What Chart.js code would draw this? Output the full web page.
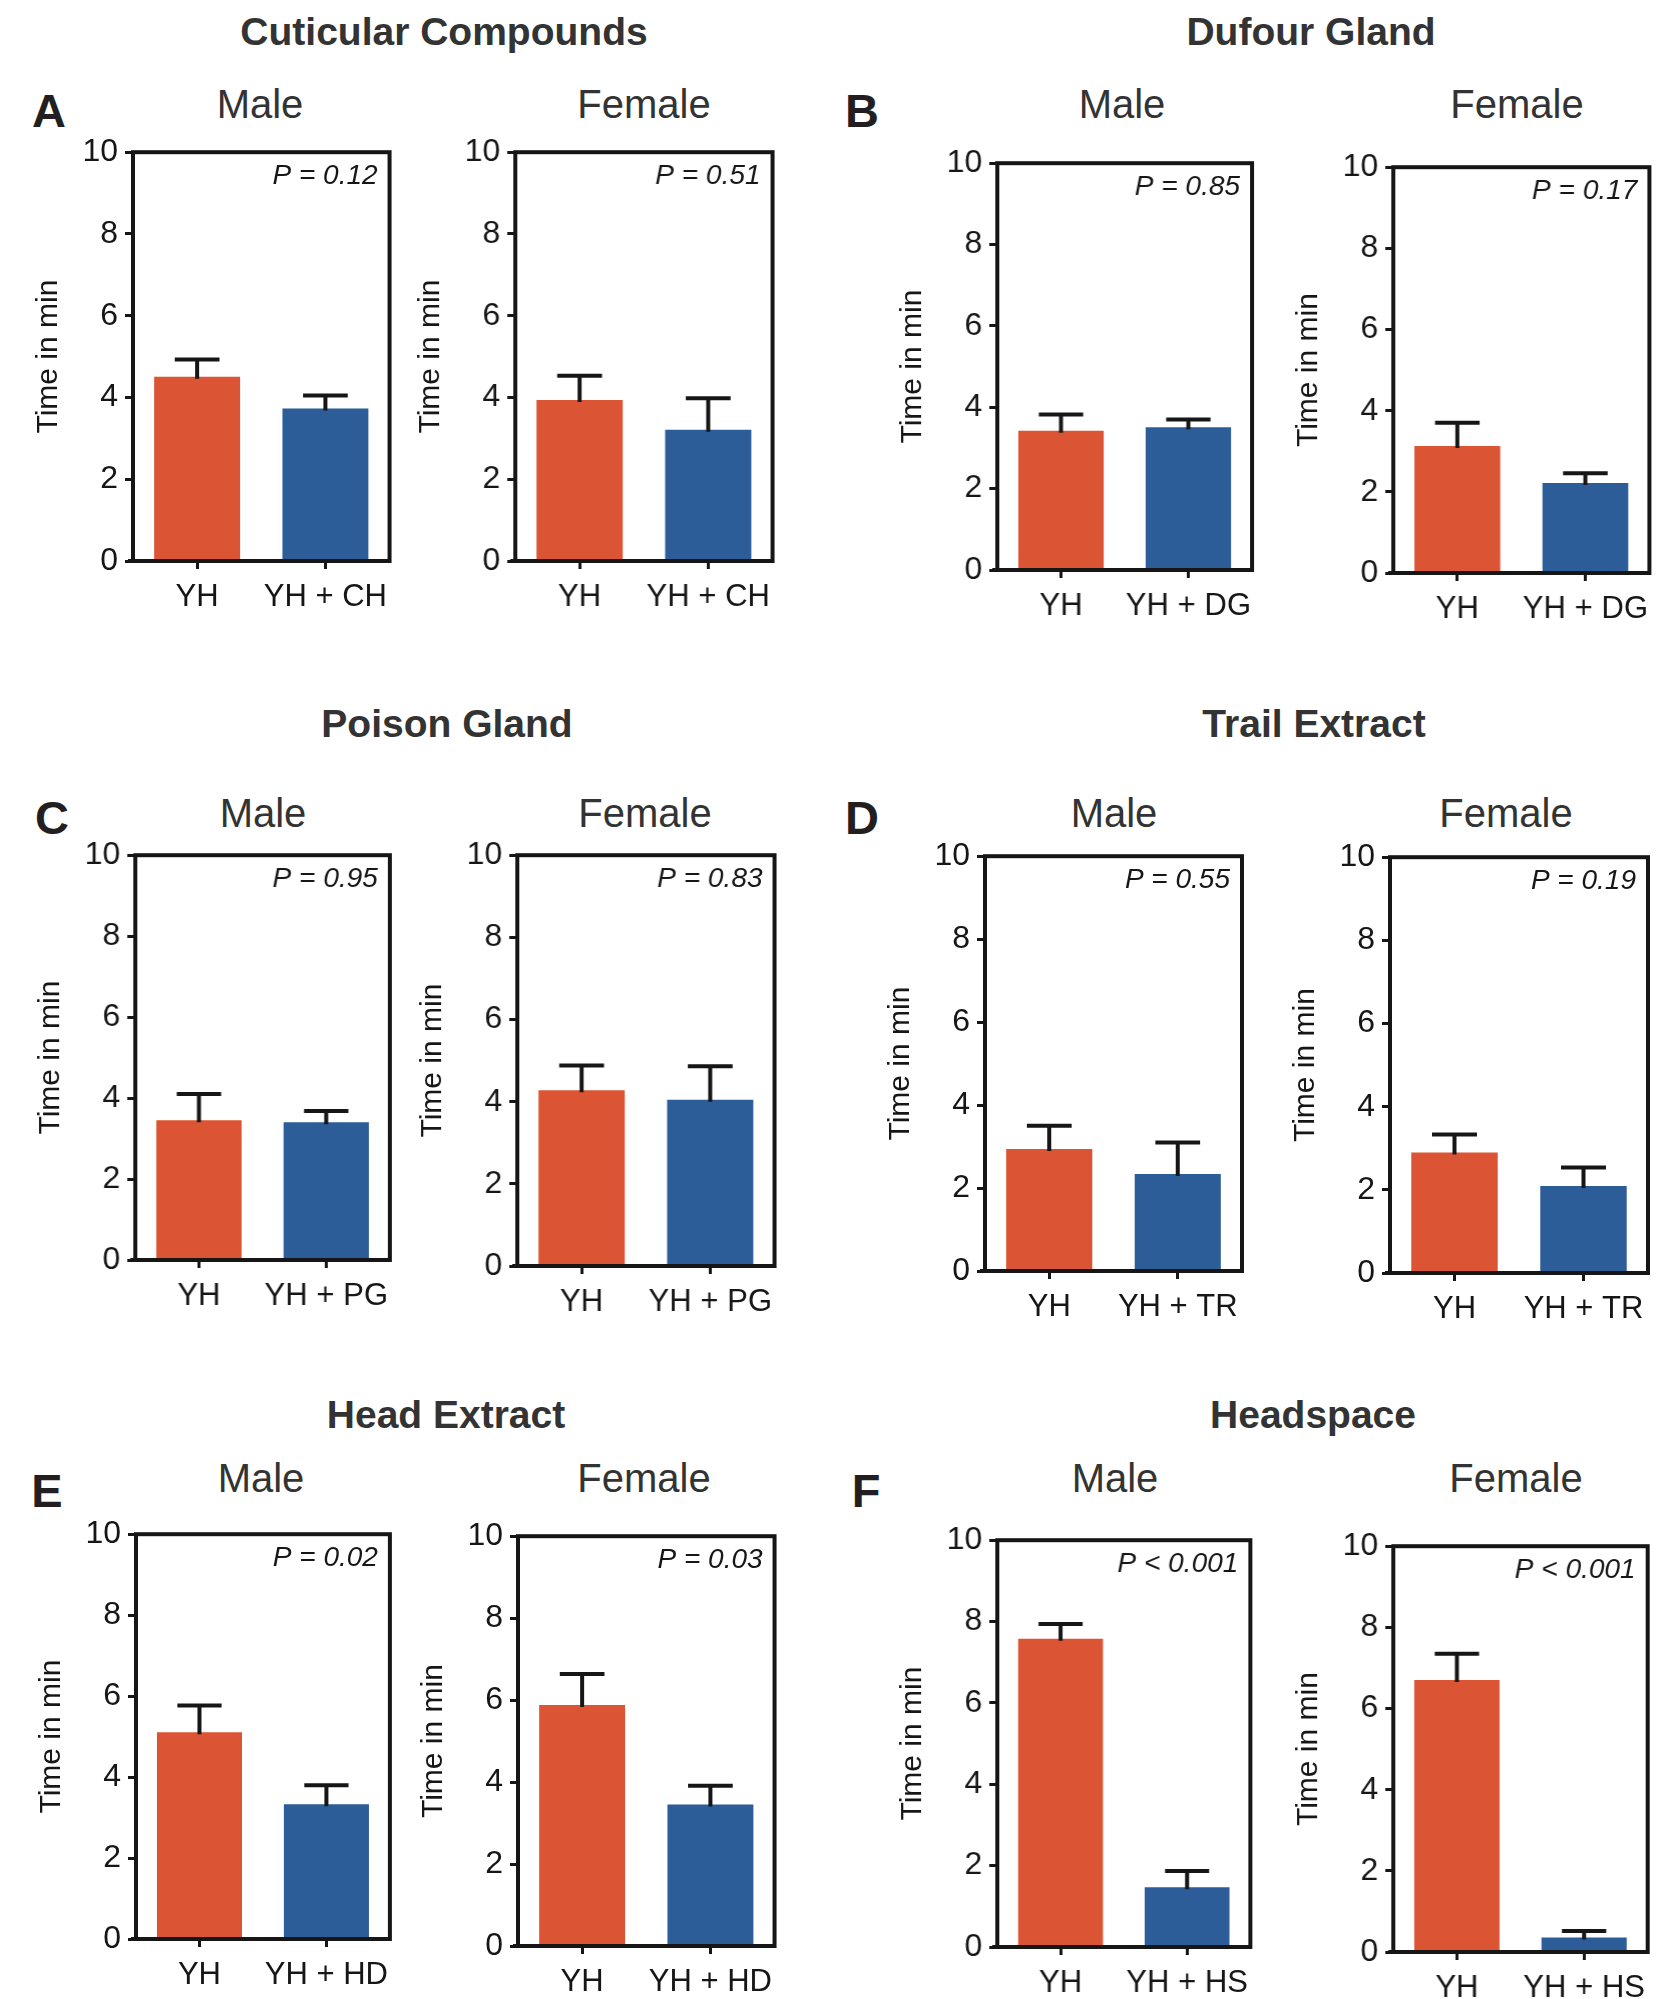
<!DOCTYPE html>
<html>
<head>
<meta charset="utf-8">
<script src="https://cdn.jsdelivr.net/npm/chart.js@4.4.0/dist/chart.umd.min.js"></script>
<style>
  body { margin: 0; background: #fff; }
  #page { position: relative; width: 1656px; height: 1999px; overflow: hidden;
          font-family: 'Liberation Sans', Arial, sans-serif; color: #231f20; }
  .lbl { position: absolute; transform: translate(-50%, -50%); white-space: nowrap; line-height: 1; }
  .title { font-weight: bold; font-size: 39px; color: #333; }
  .sex { font-size: 40px; color: #333; }
  .letter { font-weight: bold; font-size: 47px; color: #231f20; }
  canvas { position: absolute; }
</style>
</head>
<body>
<div id="page"></div>
<script>
// data (order: A male, A female, B male, B female, ...)
const panelLetters = ['A', 'B', 'C', 'D', 'E', 'F'];
const panelTitles = ['Cuticular Compounds', 'Dufour Gland', 'Poison Gland', 'Trail Extract', 'Head Extract', 'Headspace'];
const treatments = ['CH', 'DG', 'PG', 'TR', 'HD', 'HS'];
const sexes = ['Male', 'Female'];
const yTicks = [0, 2, 4, 6, 8, 10];
const meanYH    = [4.51, 3.94, 3.42, 3.13, 3.45, 4.28, 2.94, 2.90, 5.11, 5.88, 7.58, 6.70];
const meanTreat = [3.73, 3.21, 3.51, 2.22, 3.40, 4.05, 2.34, 2.09, 3.33, 3.45, 1.47, 0.36];
const semYH     = [0.42, 0.59, 0.40, 0.57, 0.65, 0.60, 0.56, 0.43, 0.66, 0.76, 0.36, 0.65];
const semTreat  = [0.32, 0.77, 0.19, 0.24, 0.28, 0.81, 0.76, 0.45, 0.47, 0.46, 0.40, 0.16];
const pLabels = ['P = 0.12', 'P = 0.51', 'P = 0.85', 'P = 0.17', 'P = 0.95', 'P = 0.83',
                 'P = 0.55', 'P = 0.19', 'P = 0.02', 'P = 0.03', 'P < 0.001', 'P < 0.001'];

// layout (page pixels)
const plotBoxes = [ // left, top, right, bottom of each plot area
  [133, 152, 389, 561], [515, 152, 772, 561], [997, 163, 1251, 570], [1393, 167, 1648, 573],
  [135, 855, 389, 1260], [517, 855, 774, 1266], [985, 856, 1242, 1271], [1390, 857, 1648, 1273],
  [136, 1534, 389, 1939], [518, 1536, 774, 1946], [997, 1540, 1250, 1947], [1393, 1546, 1647, 1952]
];
const titlePos = [[444, 31], [1311, 31], [447, 723], [1314, 723], [446, 1414], [1313, 1414]];
const letterPos = [[49, 110], [862, 110], [52, 817], [862, 817], [47, 1490], [866, 1490]];
const sexPos = [[260, 104], [644, 104], [1122, 104], [1517, 104], [263, 813], [645, 813],
                [1114, 813], [1506, 813], [261, 1478], [644, 1478], [1115, 1478], [1516, 1478]];

const ORANGE = '#DB5433';
const BLUE = '#2D5D98';
const INK = '#161616';
const FONT = "'Liberation Sans', Arial, sans-serif";
const Y_W = 104, X_H = 62, PAD_T = 4, PAD_R = 8;

const page = document.getElementById('page');

function addLabel(text, cls, x, y) {
  const d = document.createElement('div');
  d.className = 'lbl ' + cls;
  d.textContent = text;
  d.style.left = x + 'px';
  d.style.top = y + 'px';
  page.appendChild(d);
}

// draws the box, the SEM whiskers and the P value
const frameAndErrors = {
  id: 'frameAndErrors',
  afterDatasetsDraw(chart, args, opts) {
    const { ctx, chartArea: a } = chart;
    const y = chart.scales.y;
    const meta = chart.getDatasetMeta(0);
    ctx.save();
    ctx.strokeStyle = INK;
    ctx.lineWidth = 4;
    meta.data.forEach((bar, i) => {
      const y0 = y.getPixelForValue(opts.means[i]);
      const y1 = y.getPixelForValue(opts.means[i] + opts.errs[i]);
      const half = bar.width * 0.26;
      ctx.beginPath();
      ctx.moveTo(bar.x, y0 + 2);
      ctx.lineTo(bar.x, y1);
      ctx.moveTo(bar.x - half, y1);
      ctx.lineTo(bar.x + half, y1);
      ctx.stroke();
    });
    ctx.strokeRect(a.left, a.top, a.right - a.left, a.bottom - a.top);
    ctx.beginPath();
    ctx.moveTo(a.left - 5, a.bottom);
    ctx.lineTo(a.left, a.bottom);
    ctx.stroke();
    ctx.font = 'italic 28px ' + FONT;
    ctx.fillStyle = INK;
    ctx.textAlign = 'right';
    ctx.textBaseline = 'middle';
    ctx.fillText(opts.p, a.right - 12, a.top + 24);
    ctx.restore();
  }
};

function makeChart(cv, i, g) {
  return new Chart(cv, {
    type: 'bar',
    data: {
      labels: ['YH', 'YH + ' + treatments[g]],
      datasets: [{
        data: [meanYH[i], meanTreat[i]],
        backgroundColor: [ORANGE, BLUE],
        borderWidth: 0,
        barPercentage: 0.67,
        categoryPercentage: 1
      }]
    },
    options: {
      responsive: false,
      maintainAspectRatio: false,
      animation: false,
      devicePixelRatio: 1,
      layout: { padding: { top: PAD_T, right: PAD_R, left: 0, bottom: 0 } },
      plugins: {
        legend: { display: false },
        tooltip: { enabled: false },
        frameAndErrors: { means: [meanYH[i], meanTreat[i]], errs: [semYH[i], semTreat[i]], p: pLabels[i] }
      },
      scales: {
        x: {
          border: { display: false },
          grid: { drawOnChartArea: false, offset: false, tickLength: 8, tickWidth: 3, color: INK },
          ticks: { color: INK, padding: 10, autoSkip: false, maxRotation: 0, minRotation: 0,
                   font: { family: FONT, size: 31 } },
          afterFit: (sc) => { sc.height = X_H; }
        },
        y: {
          min: 0, max: 10,
          afterBuildTicks: (sc) => { sc.ticks = yTicks.map(v => ({ value: v })); },
          border: { display: false },
          grid: { drawOnChartArea: false, tickLength: 8, tickWidth: 3, color: INK },
          ticks: { color: INK, padding: 7, font: { family: FONT, size: 32 } },
          title: { display: true, text: 'Time in min', color: INK, padding: { top: 2, bottom: 0 },
                   font: { family: FONT, size: 30 } },
          afterFit: (sc) => { sc.width = Y_W; }
        }
      }
    },
    plugins: [frameAndErrors]
  });
}

function placeCanvas(cv, left, top, w, h) {
  cv.width = w; cv.height = h;
  cv.style.width = w + 'px'; cv.style.height = h + 'px';
  cv.style.left = left + 'px'; cv.style.top = top + 'px';
}

panelTitles.forEach((t, g) => {
  addLabel(t, 'title', titlePos[g][0], titlePos[g][1]);
  addLabel(panelLetters[g], 'letter', letterPos[g][0], letterPos[g][1]);

  sexes.forEach((sex, s) => {
    const i = g * 2 + s;
    const [l, t2, r, b] = plotBoxes[i];
    addLabel(sex, 'sex', sexPos[i][0], sexPos[i][1]);

    // first pass: measure where Chart.js puts the plot area, then rebuild to fit the box
    const cv = document.createElement('canvas');
    page.appendChild(cv);
    let w = (r - l) + Y_W + PAD_R, h = (b - t2) + PAD_T + X_H;
    placeCanvas(cv, l - Y_W, t2 - PAD_T, w, h);
    let chart = makeChart(cv, i, g);
    const a = chart.chartArea;
    const offL = a.left, offT = a.top, offR = w - a.right, offB = h - a.bottom;
    chart.destroy();
    w = offL + (r - l) + offR;
    h = offT + (b - t2) + offB;
    placeCanvas(cv, l - offL, t2 - offT, w, h);
    makeChart(cv, i, g);
  });
});
</script>
</body>
</html>
